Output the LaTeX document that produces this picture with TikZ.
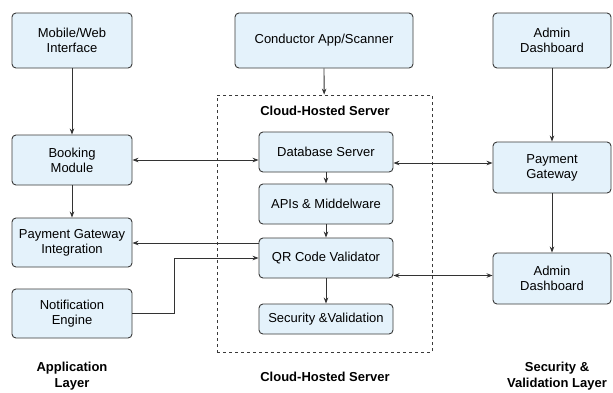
\documentclass[tikz,border=0pt]{standalone}
\usepackage{fontspec}
\setmainfont{Liberation Sans}
\usetikzlibrary{arrows.meta}
\definecolor{boxfill}{HTML}{E4F2FB}
\definecolor{boxline}{HTML}{3A3A3A}
\definecolor{wire}{HTML}{333333}
\begin{document}
\begin{tikzpicture}[x=1pt,y=-1pt,>={Stealth[length=6pt,width=4.5pt]},
  every node/.style={font=\fontsize{13}{15}\selectfont},
  box/.style={draw=boxline,fill=boxfill,rounded corners=4pt,line width=0.9pt,align=center,inner sep=0pt},
  cloud/.style={draw=boxline,dashed,line width=0.8pt,inner sep=0pt},
  layer/.style={font=\fontsize{13}{15.5}\selectfont\bfseries,align=center},
  wire/.style={draw=wire,line width=0.8pt}]
  \fill[white] (0,0) rectangle (613,392);
  \useasboundingbox (0,0) rectangle (613,392);
  % application layer
  \node[box,minimum width=120pt,minimum height=55pt] (mob) at (72,40.5) {Mobile/Web\\Interface};
  \node[box,minimum width=120pt,minimum height=50pt] (book) at (72,160) {Booking\\Module};
  \node[box,minimum width=120pt,minimum height=49pt] (pgi) at (72,242.5) {Payment Gateway\\Integration};
  \node[box,minimum width=120pt,minimum height=49pt] (notif) at (72,313.5) {Notification\\Engine};
  % cloud server
  \node[box,minimum width=178pt,minimum height=55pt] (cond) at (324,40.5) {Conductor App/Scanner};
  \node[cloud,minimum width=215pt,minimum height=257pt] (srv) at (324.5,223.5) {};
  \node[font=\fontsize{13}{15}\selectfont\bfseries] (srvt) at (325,111) {Cloud-Hosted Server};
  \node[box,minimum width=134pt,minimum height=40pt] (db) at (326,152) {Database Server};
  \node[box,minimum width=134pt,minimum height=40pt] (api) at (326,204) {APIs \& Middelware};
  \node[box,minimum width=134pt,minimum height=40pt] (qr) at (326,258) {QR Code Validator};
  \node[box,minimum width=134pt,minimum height=30pt] (sec) at (326,319) {Security \&Validation};
  % security layer
  \node[box,minimum width=118pt,minimum height=55pt] (adm) at (552,40.5) {Admin\\Dashboard};
  \node[box,minimum width=118pt,minimum height=51pt] (pay) at (552,167.5) {Payment\\Gateway};
  \node[box,minimum width=118pt,minimum height=51pt] (adm2) at (552,278.5) {Admin\\Dashboard};
  % layer captions
  \node[layer] (lapp) at (72,376) {Application\\Layer};
  \node[layer] (lsrv) at (325,377) {Cloud-Hosted Server};
  \node[layer] (lsec) at (557,376) {Security \&\\Validation Layer};
  % connectors
  \draw[wire,->] (mob) -- (book);
  \draw[wire,->] (book) -- (pgi);
  \draw[wire,<->] (book) -- (book -| db.west);
  \draw[wire,<->] ([yshift=-11pt]db.east) -- ([yshift=-11pt]db.east -| pay.west);
  \draw[wire,->] (cond) -- (srv);
  \draw[wire,->] (db) -- (api);
  \draw[wire,->] (api) -- (qr);
  \draw[wire,->] (qr) -- (sec);
  \draw[wire,->] ([yshift=15pt]qr.west) -- ([yshift=15pt]qr.west -| pgi.east);
  \draw[wire,->] (notif.east) -- ++(42,0) |- (qr.west);
  \draw[wire,<->] ([yshift=3pt]adm2.west -| qr.east) -- ([yshift=3pt]adm2.west);
  \draw[wire,->] (adm) -- (pay);
  \draw[wire,->] (pay) -- (adm2);
\end{tikzpicture}
\end{document}
